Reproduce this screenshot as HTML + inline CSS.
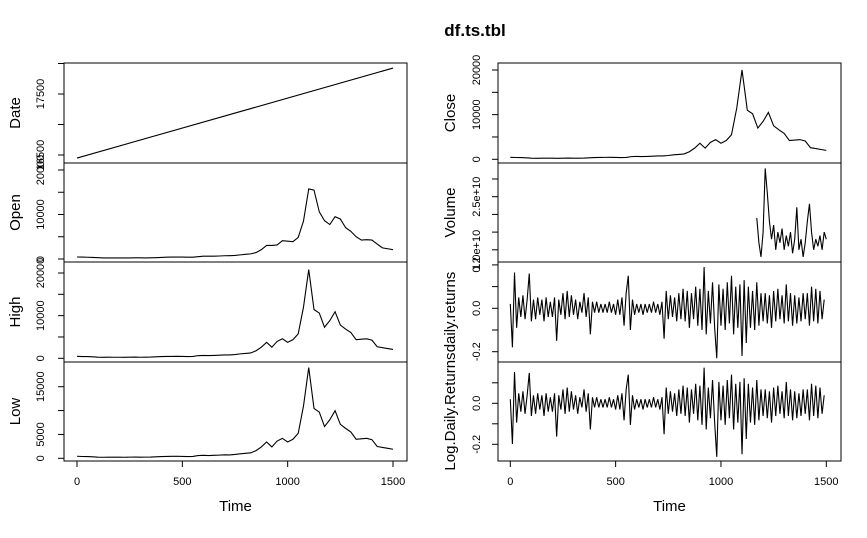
<!DOCTYPE html>
<html><head><meta charset="utf-8"><style>
html,body{margin:0;padding:0;background:#fff;}
svg{display:block;font-family:"Liberation Sans",Arial,sans-serif;}
</style></head><body>
<svg id="chart" width="867" height="538" viewBox="0 0 867 538">
<rect width="867" height="538" fill="#fff"/>
<text x="475" y="36" text-anchor="middle" font-size="17" font-weight="bold">df.ts.tbl</text>
</svg>
<script>
// ---- data ----
const closeIdx = [0,25,50,75,100,125,150,175,200,225,250,275,300,325,350,375,400,425,450,475,500,525,550,575,600,625,650,675,700,725,750,775,800,825,850,875,900,925,950,975,1000,1025,1050,1075,1100,1125,1150,1175,1200,1225,1250,1275,1300,1325,1350,1375,1400,1425,1450,1475,1500];
const closeVals = [450,400,380,330,250,230,260,240,240,230,260,280,240,260,280,330,380,420,430,450,420,380,420,600,650,610,650,700,760,750,850,1000,1100,1200,1700,2500,3600,2500,3800,4400,3600,4200,5500,11500,20000,11000,10200,7000,8500,10500,7500,6600,5800,4200,4300,4400,4100,2600,2400,2200,2000];
const dateIdx = [0,1500];
const dateVals = [16450,17925];
const volIdx = [1170,1180,1190,1200,1210,1220,1230,1240,1250,1260,1270,1280,1290,1300,1310,1320,1330,1340,1350,1360,1370,1380,1390,1400,1410,1420,1430,1440,1450,1460,1470,1480,1490,1500];
const volVals = [1.9,1.2,0.8,1.5,3.3,2.6,1.8,1.3,1.7,1.0,1.5,1.2,1.6,1.0,1.4,1.1,1.5,0.9,1.3,2.2,1.0,1.3,0.8,1.2,1.8,2.3,1.5,1.0,1.3,1.1,1.4,1.0,1.5,1.3]; // x 1e10
const retVals = [0.02,-0.18,0.165,-0.09,0.05,-0.04,0.06,-0.05,0.04,0.16,
-0.06,0.04,-0.05,0.05,-0.03,0.04,-0.06,0.05,-0.04,0.03,
-0.04,0.05,-0.15,0.04,-0.03,0.07,-0.05,0.08,-0.04,0.06,
-0.03,0.04,-0.05,0.03,-0.02,0.07,-0.04,0.05,-0.12,0.03,
-0.02,0.03,-0.02,0.02,-0.02,0.02,-0.02,0.03,-0.02,0.02,
-0.03,0.04,-0.03,0.05,-0.08,0.07,0.15,-0.10,0.04,-0.03,
0.02,-0.02,0.02,-0.03,0.02,-0.02,0.02,-0.02,0.03,-0.02,
0.02,-0.03,0.03,-0.14,0.08,-0.05,0.06,-0.04,0.05,-0.06,
0.07,-0.05,0.09,-0.06,0.08,-0.09,0.07,-0.05,0.10,-0.08,
0.09,-0.10,0.19,-0.12,0.08,-0.07,0.12,-0.09,-0.23,0.11,
-0.08,0.09,-0.10,0.12,-0.07,0.15,-0.12,0.10,-0.09,0.11,
-0.22,0.13,-0.16,0.10,-0.09,0.08,-0.10,0.12,-0.08,0.07,
-0.06,0.07,-0.07,0.06,-0.09,0.08,-0.06,0.09,-0.05,0.06,
-0.07,0.11,-0.06,0.07,-0.08,0.06,-0.07,0.05,-0.06,0.07,
-0.05,0.07,-0.08,0.10,-0.06,0.09,-0.07,0.08,-0.05,0.04];
const retStep = 10;
const xTicks = [0,500,1000,1500];

const svg = document.getElementById('chart');
const NS = 'http://www.w3.org/2000/svg';
function mk(tag, attrs, parent){const e=document.createElementNS(NS,tag);for(const k in attrs)e.setAttribute(k,attrs[k]);(parent||svg).appendChild(e);return e;}

// columns
const cols = [{x0:64,x1:407,xz:77,xs:(393-77)/1500, lab:20, tick:44},{x0:498,x1:841,xz:510.3,xs:(826.3-510.3)/1500, lab:455, tick:480}];
const rows = [[63,163],[163,262],[262,362],[362,461]];

function panel(col,row,name,title,yf,ticks,labels,idx,vals){
  const c=cols[col],[t,b]=rows[row];
  const g=mk('g',{});
  
  
  const r=mk('rect',{x:c.x0,y:t,width:c.x1-c.x0,height:b-t,fill:'none',stroke:'#000','stroke-width':1},g);
  
  
  ticks.forEach(v=>{const y=yf(v);mk('line',{x1:c.x0-6,x2:c.x0,y1:y,y2:y,stroke:'#000'},g);});
  labels.forEach(([v,s])=>{const y=yf(v);const tx=mk('text',{x:c.tick,y:y,'font-size':11,'text-anchor':'middle',transform:`rotate(-90 ${c.tick} ${y})`},g);tx.textContent=s;
    
    });
  const ty=(t+b)/2;
  const tt=mk('text',{x:c.lab,y:ty,'font-size':15,'text-anchor':'middle',transform:`rotate(-90 ${c.lab} ${ty})`},g);
  tt.textContent=title;
  
  
  const pts=idx.map((i,k)=>(c.xz+i*c.xs).toFixed(2)+','+yf(vals[k]).toFixed(2)).join(' ');
  const pl=mk('polyline',{points:pts,fill:'none',stroke:'#000','stroke-width':1.1},g);
  
  
}
const lin=(v0,y0,v1,y1)=>v=>y0+(v-v0)*(y1-y0)/(v1-v0);
const openVals = closeVals.slice(0,1).concat(closeVals.slice(0,-1).map((v,k)=>(v+closeVals[k+1])/2));
const highVals = closeVals.map(v=>v*1.04);
const lowVals = closeVals.map(v=>v*0.95);
const retIdx = retVals.map((v,k)=>k*retStep);
const logVals = retVals.map(v=>Math.log(1+v));

panel(0,0,'date','Date',lin(16500,155,17500,94),[16500,17000,17500,18000],[[16500,'16500'],[17500,'17500']],dateIdx,dateVals);
panel(0,1,'open','Open',lin(0,259,20000,170),[0,5000,10000,15000,20000],[[0,'0'],[10000,'10000'],[20000,'20000']],closeIdx,openVals);
panel(0,2,'high','High',lin(0,358.3,20000,273),[0,5000,10000,15000,20000],[[0,'0'],[10000,'10000'],[20000,'20000']],closeIdx,highVals);
panel(0,3,'low','Low',lin(0,458.3,15000,386.7),[0,5000,10000,15000],[[0,'0'],[5000,'5000'],[15000,'15000']],closeIdx,lowVals);
panel(1,0,'close','Close',lin(0,159.3,20000,70),[0,5000,10000,15000,20000],[[0,'0'],[10000,'10000'],[20000,'20000']],closeIdx,closeVals);
panel(1,1,'volume','Volume',lin(3.0,179,2.5,196.7),[1.0,1.5,2.0,2.5,3.0],[[1.0,'1.0e+10'],[2.5,'2.5e+10']],volIdx,volVals);
panel(1,2,'daily-returns','daily.returns',lin(0,308.3,-0.2,351.7),[-0.2,-0.1,0,0.1,0.2],[[-0.2,'-0.2'],[0,'0.0'],[0.2,'0.2']],retIdx,retVals);
panel(1,3,'log-daily-returns','Log.Daily.Returns',lin(0,403.3,-0.2,444.3),[-0.2,-0.1,0,0.1],[[-0.2,'-0.2'],[0,'0.0']],retIdx,logVals);

cols.forEach((c,ci)=>{
  const g=mk('g',{});
  
  
  mk('line',{x1:c.xz,x2:c.xz+1500*c.xs,y1:461,y2:461,stroke:'#000'},g);
  xTicks.forEach(v=>{const x=c.xz+v*c.xs;mk('line',{x1:x,x2:x,y1:461,y2:467,stroke:'#000'},g);
    const t=mk('text',{x:x,y:485,'font-size':11,'text-anchor':'middle'},g);t.textContent=v;
    
    });
  const tt=mk('text',{x:(c.x0+c.x1)/2,y:511,'font-size':15,'text-anchor':'middle'},g);tt.textContent='Time';
  
  
});
</script>
</body></html>
